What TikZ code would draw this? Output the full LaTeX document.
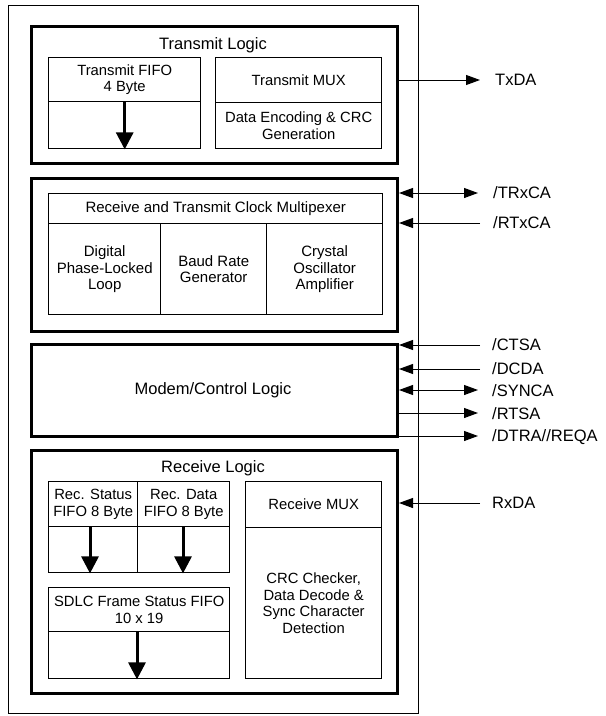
\documentclass[tikz,border=0pt]{standalone}
\usepackage{fontspec}
\setmainfont{Liberation Sans}
\usetikzlibrary{arrows.meta}
\tikzset{
  x=1pt,y=-1pt,
  outerbox/.style={draw,line width=1pt,inner sep=0pt,anchor=north west},
  thickbox/.style={draw,line width=3pt,inner sep=0pt,anchor=north west},
  cell/.style={draw,line width=1.4pt,inner sep=0pt,anchor=north west},
  body/.style={font=\fontsize{14.8}{16.5}\selectfont,align=center,inner sep=0pt},
  ttl/.style={font=\fontsize{16.5}{18}\selectfont,align=center,inner sep=0pt},
  lbl/.style={font=\fontsize{16.5}{18}\selectfont,anchor=west,inner sep=0pt},
  sig/.style={line width=1pt,-{Triangle[length=14pt,width=10pt]}},
  bisig/.style={line width=1pt,{Triangle[length=14pt,width=10pt]}-{Triangle[length=14pt,width=10pt]}},
  fifo/.style={line width=3pt,-{Triangle[length=17pt,width=17pt]}},
}
\begin{document}
\begin{tikzpicture}
\useasboundingbox (0,0) rectangle (606,716);
% outer chip boundary
\node[outerbox,minimum width=410pt,minimum height=708pt] (outer) at (8,5) {};
% Transmit logic
\node[thickbox,minimum width=366pt,minimum height=137pt] (tlogic) at (30,25) {};
\node[ttl] (tlogicT) at (213,45) {Transmit Logic};
\node[cell,minimum width=152pt,minimum height=44pt] (tfifoA) at (48,57) {};
\node[cell,minimum width=152pt,minimum height=47pt] (tfifoB) at (48,101) {};
\node[body] (tfifoT) at (tfifoA.center) {Transmit FIFO\\4 Byte};
\node[cell,minimum width=166pt,minimum height=45pt] (tmuxA) at (215,57) {};
\node[cell,minimum width=166pt,minimum height=46pt] (tmuxB) at (215,102) {};
\node[body] (tmuxT) at (tmuxA.center) {Transmit MUX};
\node[body] (tmuxE) at (tmuxB.center) {Data Encoding \& CRC\\Generation};
\draw[fifo] (tfifoB.north) -- (tfifoB.south);
% Clock
\node[thickbox,minimum width=366pt,minimum height=153pt] (clk) at (30,177) {};
\node[cell,minimum width=334pt,minimum height=30pt] (cmux) at (48,193) {};
\node[body,font=\fontsize{15}{16}\selectfont] (cmuxT) at (cmux.center) {Receive and Transmit Clock Multipexer};
\node[cell,minimum width=112pt,minimum height=91pt] (dpll) at (48,223) {};
\node[cell,minimum width=106pt,minimum height=91pt] (brg) at (160,223) {};
\node[cell,minimum width=116pt,minimum height=91pt] (xtal) at (266,223) {};
\node[body,font=\fontsize{15}{16.5}\selectfont] (dpllT) at (dpll.center) {Digital\\Phase-Locked\\Loop};
\node[body,font=\fontsize{15}{16.5}\selectfont] (brgT) at (brg.center) {Baud Rate\\Generator};
\node[body,font=\fontsize{15}{16.5}\selectfont] (xtalT) at (xtal.center) {Crystal\\Oscillator\\Amplifier};
% Modem
\node[thickbox,minimum width=366pt,minimum height=92pt] (modem) at (30,343) {};
\node[ttl] (modemT) at (213,390) {Modem/Control Logic};
% Receive logic
\node[thickbox,minimum width=366pt,minimum height=243pt] (rlogic) at (30,449) {};
\node[ttl] (rlogicT) at (213,468) {Receive Logic};
\node[cell,minimum width=89pt,minimum height=45pt] (rsA) at (48,481) {};
\node[cell,minimum width=89pt,minimum height=46pt] (rsB) at (48,526) {};
\node[cell,minimum width=92pt,minimum height=45pt] (rdA) at (137,481) {};
\node[cell,minimum width=92pt,minimum height=46pt] (rdB) at (137,526) {};
\node[body] (rsT) at (rsA.center) {Rec. Status\\FIFO 8 Byte};
\node[body] (rdT) at (rdA.center) {Rec. Data\\FIFO 8 Byte};
\draw[fifo] (rsB.north -| 90,0) -- (rsB.south -| 90,0);
\draw[fifo] (rdB.north -| 183,0) -- (rdB.south -| 183,0);
\node[cell,minimum width=181pt,minimum height=44pt] (sdA) at (48,587) {};
\node[cell,minimum width=181pt,minimum height=47pt] (sdB) at (48,631) {};
\node[body] (sdT) at (sdA.center) {SDLC Frame Status FIFO\\10 x 19};
\draw[fifo] (sdB.north -| 137,0) -- (sdB.south -| 137,0);
\node[cell,minimum width=136pt,minimum height=46pt] (rmA) at (245,481) {};
\node[cell,minimum width=136pt,minimum height=151pt] (rmB) at (245,527) {};
\node[body] (rmT) at (rmA.center) {Receive MUX};
\node[body] (rmE) at (rmB.center) {CRC Checker,\\Data Decode \&\\Sync Character\\Detection};
% Signals
\coordinate (txdaE) at (480,80);
\coordinate (trxcaE) at (478,193);
\coordinate (rtxcaE) at (480,223);
\coordinate (ctsaE) at (480,345);
\coordinate (dcdaE) at (480,369);
\coordinate (syncaE) at (478,390);
\coordinate (rtsaE) at (478,413);
\coordinate (dtraE) at (478,436);
\coordinate (rxdaE) at (480,503);
\node[lbl] (txdaL) at (495,80) {TxDA};
\node[lbl] (trxcaL) at (493,193) {/TRxCA};
\node[lbl] (rtxcaL) at (493,223) {/RTxCA};
\node[lbl] (ctsaL) at (492,345) {/CTSA};
\node[lbl] (dcdaL) at (492,369) {/DCDA};
\node[lbl] (syncaL) at (492,391) {/SYNCA};
\node[lbl] (rtsaL) at (492,414) {/RTSA};
\node[lbl] (dtraL) at (492,437) {/DTRA//REQA};
\node[lbl] (rxdaL) at (492,503) {RxDA};
\draw[sig] (tlogic.east |- txdaE) -- (txdaE);
\draw[bisig] (clk.east |- trxcaE) -- (trxcaE);
\draw[sig] (rtxcaE) -- (clk.east |- rtxcaE);
\draw[sig] (ctsaE) -- (modem.east |- ctsaE);
\draw[sig] (dcdaE) -- (modem.east |- dcdaE);
\draw[bisig] (modem.east |- syncaE) -- (syncaE);
\draw[sig] (modem.east |- rtsaE) -- (rtsaE);
\draw[sig] (modem.east |- dtraE) -- (dtraE);
\draw[sig] (rxdaE) -- (rlogic.east |- rxdaE);
\end{tikzpicture}
\end{document}
